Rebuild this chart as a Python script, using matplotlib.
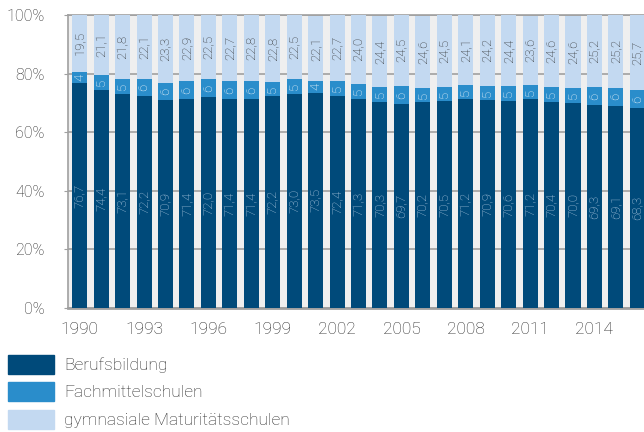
import numpy as np
import matplotlib
matplotlib.use("Agg")
import matplotlib.pyplot as plt
from matplotlib.patches import Patch

years = list(range(1990, 2017))
berufsbildung = [76.7, 74.4, 73.1, 72.2, 70.9, 71.4, 72.0, 71.4, 71.4, 72.2, 73.0, 73.5, 72.4, 71.3,
                 70.3, 69.7, 70.2, 70.5, 71.2, 70.9, 70.6, 71.2, 70.4, 70.0, 69.3, 69.1, 68.3]
fachmittel = [4, 5, 5, 6, 6, 6, 6, 6, 6, 5, 5, 4, 5, 5, 5, 6, 5, 5, 5, 5, 5, 5, 5, 5, 6, 6, 6]
gymnasial = [19.5, 21.1, 21.8, 22.1, 23.3, 22.9, 22.5, 22.7, 22.8, 22.8, 22.5, 22.1, 22.7, 24.0,
             24.4, 24.5, 24.6, 24.5, 24.1, 24.2, 24.4, 23.6, 24.6, 24.6, 25.2, 25.2, 25.7]
series_names = ["Berufsbildung", "Fachmittelschulen", "gymnasiale Maturitätsschulen"]
xtick_years = [1990, 1993, 1996, 1999, 2002, 2005, 2008, 2011, 2014]
yticks = [0, 20, 40, 60, 80, 100]

c_dark = "#004a7a"
c_mid = "#2a8dcb"
c_light = "#c3d9f1"
grey = "#a0a0a0"
txt = "#2a2a2a"

plt.rcParams["font.family"] = ["Roboto", "DejaVu Sans"]
plt.rcParams["font.weight"] = "light"

W, H = 644, 432
fig = plt.figure(figsize=(W / 100, H / 100), dpi=100)
ax = fig.add_axes([68 / W, (H - 308) / H, (W - 68) / W, (308 - 15) / H])
ax.set_facecolor("#efefef")

x = np.array(years)
b = np.array(berufsbildung)
f = np.array(fachmittel)
g = np.array(gymnasial)
ax.bar(x, b, width=0.7, color=c_dark, zorder=3)
ax.bar(x, f, width=0.7, bottom=b, color=c_mid, zorder=3)
ax.bar(x, g, width=0.7, bottom=b + f, color=c_light, zorder=3)

def fmt(v):
    return f"{v:.1f}".replace(".", ",")

for xi, bi, fi, gi in zip(x, b, f, g):
    ax.text(xi, bi / 2, fmt(bi), rotation=90, ha="center", va="center",
            color="#b9d0e6", fontsize=9.5, zorder=4)
    ax.text(xi, bi + fi / 2, str(fi), rotation=90, ha="center", va="center",
            color="white", fontsize=9.5, zorder=4)
    ax.text(xi, bi + fi + gi / 2, fmt(gi), rotation=90, ha="center", va="center",
            color=txt, fontsize=9.5, zorder=4)

ax.set_xlim(1989.455, 2016.31)
ax.set_ylim(0, 100)
ax.set_yticks(yticks)
ax.set_yticklabels([f"{v}%" for v in yticks], fontsize=11.5, color=txt)
ax.set_xticks(xtick_years)
ax.set_xticklabels([str(v) for v in xtick_years], fontsize=12.5, color=txt)
ax.tick_params(axis="y", length=3, color=grey, pad=14)
ax.tick_params(axis="x", length=0, pad=10)
ax.grid(axis="y", color=grey, linewidth=1.2, zorder=1)
ax.set_axisbelow(True)
ax.spines["right"].set_visible(False)
ax.spines["top"].set_color(grey)
ax.spines["top"].set_linewidth(1.2)
ax.spines["left"].set_color(grey)
ax.spines["left"].set_linewidth(1.2)
ax.spines["bottom"].set_color(grey)
ax.spines["bottom"].set_linewidth(2)

handles = [Patch(color=c) for c in (c_dark, c_mid, c_light)]
fig.legend(handles, series_names, loc="upper left", bbox_to_anchor=(-8 / W, (H - 339) / H),
           frameon=False, fontsize=12.5, handlelength=2.66, handleheight=1.32,
           labelspacing=0.48, handletextpad=0.6, borderpad=0.4, labelcolor=txt)

fig.savefig("out.png", dpi=100)
